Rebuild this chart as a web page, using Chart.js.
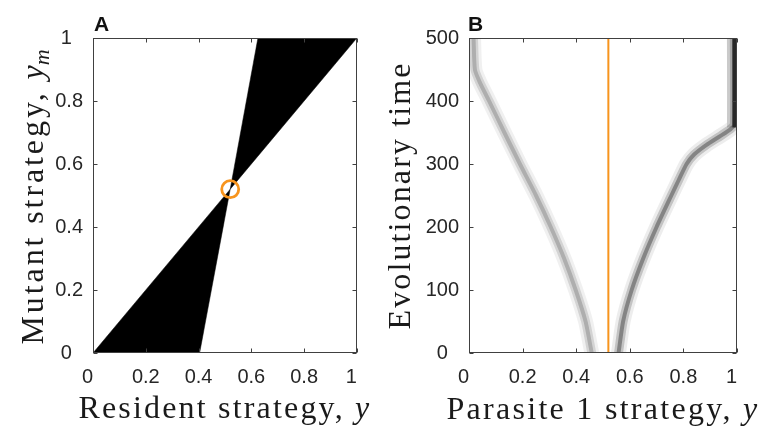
<!DOCTYPE html>
<html>
<head>
    <title>Pairwise invasibility plot and evolutionary branching</title>
    <script src="https://cdn.jsdelivr.net/npm/chart.js"></script>
    <style>
        body { margin: 0; background: #fff; }
        .panel { position: absolute; top: 0; height: 426px; }
    </style>
</head>
<body>
    <div class="panel" style="left:0;width:380px"><canvas id="pipChart"></canvas></div>
    <div class="panel" style="left:380px;width:381px"><canvas id="evoChart"></canvas></div>
    <script>
        // tick values
        const strategyTicks = [0, 0.2, 0.4, 0.6, 0.8, 1];
        const timeTicks = [0, 100, 200, 300, 400, 500];

        // panel A: regions where the mutant invades (black)
        const singularPoint = 0.52;
        const lowerWedgeX = [0, 0.404, 0.52, 0];
        const lowerWedgeY = [0, 0, 0.52, 0];
        const upperWedgeX = [0.52, 0.625, 1, 0.52];
        const upperWedgeY = [0.52, 1, 1, 0.52];

        // panel B: centre of each branch through evolutionary time
        const leftTime = [0, 50, 100, 150, 200, 250, 300, 350, 400, 430, 450, 500];
        const leftStrategy = [0.458, 0.435, 0.398, 0.355, 0.305, 0.25, 0.19, 0.132, 0.075, 0.04, 0.022, 0.017];
        const rightTime = [0, 50, 100, 150, 200, 250, 275, 300, 315, 330, 345, 355, 362, 500];
        const rightStrategy = [0.558, 0.575, 0.607, 0.65, 0.70, 0.755, 0.783, 0.812, 0.84, 0.885, 0.94, 0.975, 0.99, 0.99];
        const edgeTime = [358, 500];
        const edgeStrategy = 0.99;
        const edgeHalo = 0.972;

        const orange = '#F7941D';
        const ink = '#262626';

        const toPoints = (xs, ys) => xs.map((x, i) => ({ x: x, y: ys[i] }));

        function endLabel(v) {
            // MATLAB puts the single digit labels a little off centre
            if (v === 0 || v === 1) return v + '  ';
            return Number.isInteger(v) ? String(v) : v.toFixed(1);
        }

        function bandLayers(points, alphas) {
            const widths = [15, 9, 4];
            return widths.map((w, i) => ({
                data: points,
                borderColor: 'rgba(0,0,0,' + alphas[i] + ')',
                borderWidth: w,
                borderJoinStyle: 'round',
                tension: 0.2,
                pointRadius: 0,
                clip: 0
            }));
        }

        function drawRich(ctx, parts, size, target) {
            const fontOf = p => (p.italic ? 'italic ' : '') + (p.sub ? Math.round(size * 0.7) : size) + 'px "Liberation Serif", "Times New Roman", serif';
            ctx.letterSpacing = '0px';
            let natural = 0, count = 0;
            parts.forEach(p => { ctx.font = fontOf(p); natural += ctx.measureText(p.t).width; if (!p.sub) count += p.t.length; });
            const spacing = Math.max(0, (target - natural) / count);
            let widths = [];
            let total = 0;
            parts.forEach(p => {
                ctx.font = fontOf(p);
                ctx.letterSpacing = (p.sub ? 0 : spacing) + 'px';
                const w = ctx.measureText(p.t).width;
                widths.push(w);
                total += w;
            });
            let x = -total / 2;
            parts.forEach((p, i) => {
                ctx.font = fontOf(p);
                ctx.letterSpacing = (p.sub ? 0 : spacing) + 'px';
                ctx.fillText(p.t, x - (p.sub ? spacing : 0), p.sub ? size * 0.2 : 0);
                x += widths[i];
            });
            ctx.letterSpacing = '0px';
        }

        // box around the axes with inward ticks, titles and panel letter
        const boxAxes = {
            id: 'boxAxes',
            afterDraw(chart, args, opts) {
                const { ctx, chartArea: a } = chart;
                const xs = chart.scales.x, ys = chart.scales.y;
                ctx.save();
                ctx.strokeStyle = '#404040';
                ctx.lineWidth = 1;
                const l = Math.round(a.left) + 0.5, r = Math.round(a.right) - 0.5;
                const t = Math.round(a.top) + 0.5, b = Math.round(a.bottom) - 0.5;
                ctx.strokeRect(l, t, r - l, b - t);
                ctx.beginPath();
                xs.ticks.forEach(tk => {
                    const px = Math.round(xs.getPixelForValue(tk.value)) + 0.5;
                    ctx.moveTo(px, b); ctx.lineTo(px, b - 4);
                    ctx.moveTo(px, t); ctx.lineTo(px, t + 4);
                });
                ys.ticks.forEach(tk => {
                    const py = Math.round(ys.getPixelForValue(tk.value)) + 0.5;
                    ctx.moveTo(l, py); ctx.lineTo(l + 4, py);
                    ctx.moveTo(r, py); ctx.lineTo(r - 4, py);
                });
                ctx.stroke();

                ctx.fillStyle = '#111';
                ctx.textBaseline = 'alphabetic';
                ctx.textAlign = 'left';
                ctx.font = 'bold 21px "Liberation Sans", Arial, sans-serif';
                ctx.fillText(opts.letter, opts.letterX, 30.5);

                ctx.fillStyle = '#1a1a1a';
                ctx.save();
                ctx.translate((a.left + a.right) / 2, opts.xTitleBase);
                drawRich(ctx, opts.xTitle, 32, opts.xTitleWidth);
                ctx.restore();

                ctx.save();
                ctx.translate(opts.yTitleBase, (a.top + a.bottom) / 2);
                ctx.rotate(-Math.PI / 2);
                drawRich(ctx, opts.yTitle, 32, opts.yTitleWidth);
                ctx.restore();
                ctx.restore();
            }
        };

        const tickFont = { family: '"Liberation Sans", Arial, sans-serif', size: 20 };

        function axes(xTicks, xMax, yTicks, yMax) {
            return {
                x: {
                    type: 'linear', min: 0, max: xMax,
                    afterBuildTicks: s => { s.ticks = xTicks.map(v => ({ value: v })); },
                    afterFit: s => { s.height = 73; },
                    grid: { display: false, drawTicks: false },
                    border: { display: false },
                    ticks: { font: tickFont, color: ink, padding: 12, maxRotation: 0, autoSkip: false, callback: endLabel }
                },
                y: {
                    type: 'linear', min: 0, max: yMax,
                    afterBuildTicks: s => { s.ticks = yTicks.map(v => ({ value: v })); },
                    afterFit: s => { s.width = 93 - (yMax === 1 ? 0 : 4); },
                    grid: { display: false, drawTicks: false },
                    border: { display: false },
                    ticks: { font: tickFont, color: ink, padding: 10, autoSkip: false, callback: endLabel }
                }
            };
        }

        new Chart(document.getElementById('pipChart'), {
            type: 'line',
            data: {
                datasets: [{
                    data: [{ x: singularPoint, y: singularPoint }],
                    showLine: false,
                    pointRadius: 8.5,
                    pointHoverRadius: 8.5,
                    borderWidth: 2.8,
                    borderColor: orange,
                    backgroundColor: 'rgba(0,0,0,0)'
                }, {
                    data: toPoints(lowerWedgeX, lowerWedgeY),
                    fill: 'shape', backgroundColor: '#000', borderColor: '#000', borderWidth: 0.5, pointRadius: 0
                }, {
                    data: toPoints(upperWedgeX, upperWedgeY),
                    fill: 'shape', backgroundColor: '#000', borderColor: '#000', borderWidth: 0.5, pointRadius: 0
                }]
            },
            options: {
                responsive: true, maintainAspectRatio: false, animation: false, events: [],
                layout: { padding: { top: 38, right: 18, left: 0, bottom: 0 } },
                plugins: {
                    legend: { display: false }, tooltip: { enabled: false },
                    boxAxes: {
                        letter: 'A', letterX: 94,
                        xTitle: [{ t: 'Resident strategy, ' }, { t: 'y', italic: true }],
                        xTitleBase: 418, xTitleWidth: 293,
                        yTitle: [{ t: 'Mutant strategy, ' }, { t: 'y', italic: true }, { t: 'm', italic: true, sub: true }],
                        yTitleBase: 43, yTitleWidth: 298
                    }
                },
                scales: axes(strategyTicks, 1, strategyTicks, 1)
            },
            plugins: [boxAxes]
        });

        new Chart(document.getElementById('evoChart'), {
            type: 'line',
            data: {
                datasets: [{
                    data: [{ x: singularPoint, y: 0 }, { x: singularPoint, y: 500 }],
                    borderColor: orange, borderWidth: 2, pointRadius: 0, clip: 0
                }, {
                    data: edgeTime.map(t => ({ x: edgeStrategy, y: t })),
                    borderColor: 'rgba(30,30,30,0.9)', borderWidth: 4, pointRadius: 0, clip: 0
                }, {
                    data: edgeTime.map(t => ({ x: edgeHalo, y: t })),
                    borderColor: 'rgba(0,0,0,0.15)', borderWidth: 5, pointRadius: 0, clip: 0
                },
                ...bandLayers(toPoints(rightStrategy, rightTime), [0.07, 0.18, 0.32]),
                ...bandLayers(toPoints(leftStrategy, leftTime), [0.06, 0.12, 0.18])]
            },
            options: {
                responsive: true, maintainAspectRatio: false, animation: false, events: [],
                layout: { padding: { top: 38, right: 24, left: 0, bottom: 0 } },
                plugins: {
                    legend: { display: false }, tooltip: { enabled: false },
                    boxAxes: {
                        letter: 'B', letterX: 88,
                        xTitle: [{ t: 'Parasite 1 strategy, ' }, { t: 'y', italic: true }],
                        xTitleBase: 419, xTitleWidth: 313,
                        yTitle: [{ t: 'Evolutionary time' }],
                        yTitleBase: 30, yTitleWidth: 268
                    }
                },
                scales: axes(strategyTicks, 1, timeTicks, 500)
            },
            plugins: [boxAxes]
        });
    </script>
</body>
</html>
